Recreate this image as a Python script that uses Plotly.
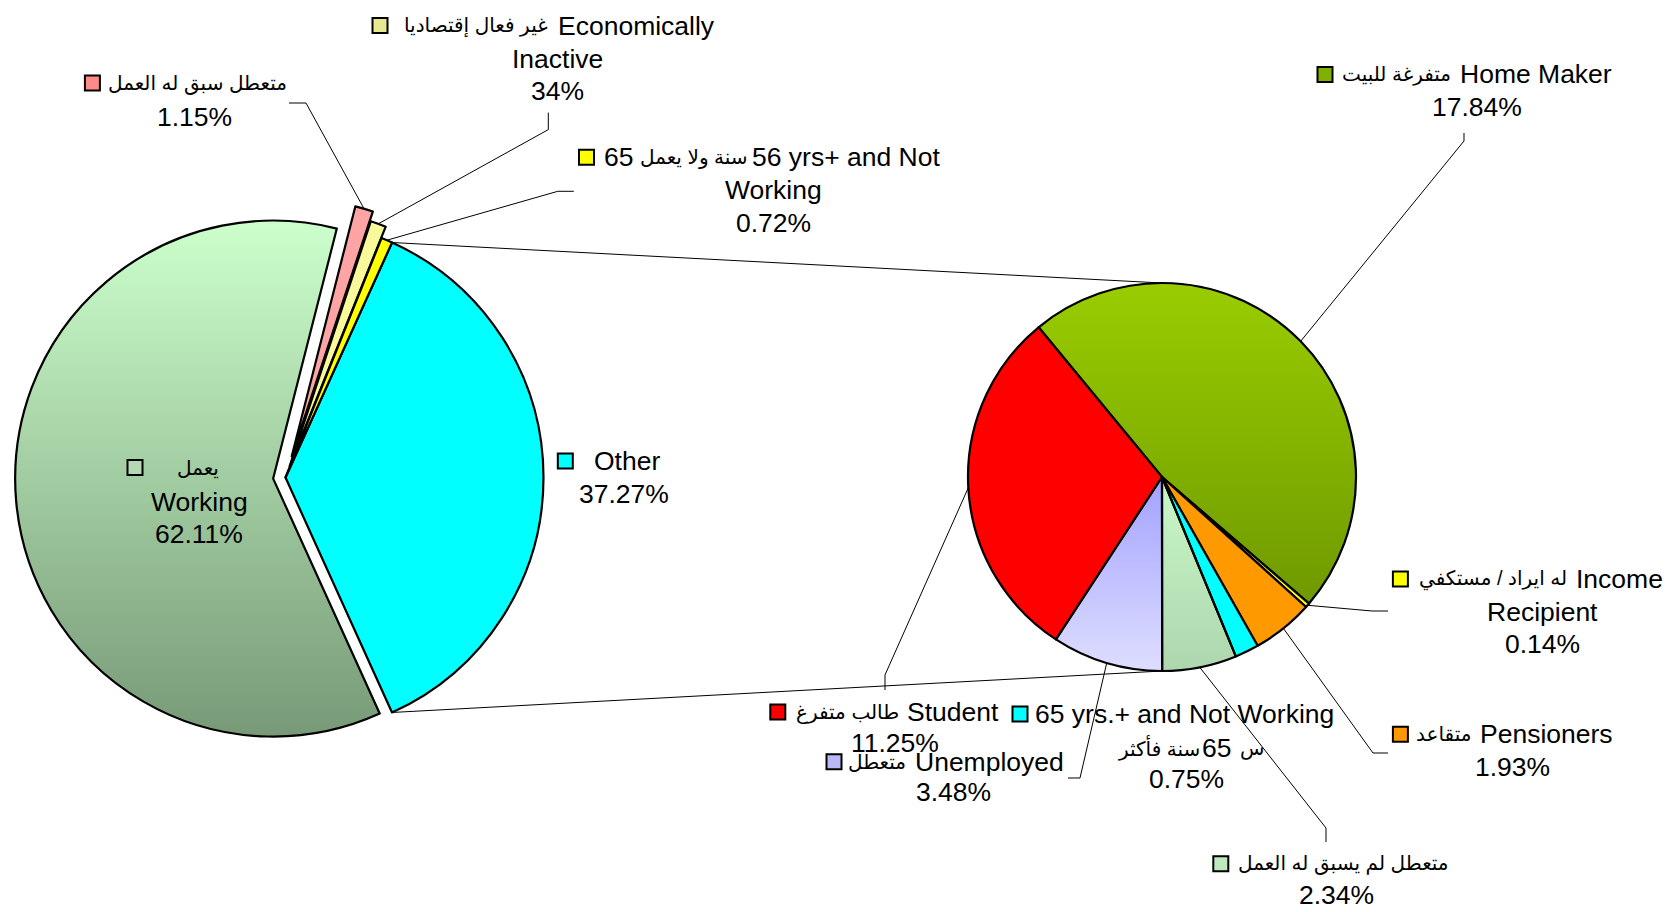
import math
import plotly.graph_objects as go

W, H = 1666, 912
FONT = "Liberation Sans, Arial, DejaVu Sans, sans-serif"
FS = 26.5
FS_AR = 20

# ---------------- data: primary pie ----------------
main_names_ar = ["", "يعمل", "متعطل سبق له العمل", "غير فعال إقتصاديا", "65 سنة ولا يعمل"]
main_names_en = ["Other", "Working", "", "Economically Inactive", "56 yrs+ and Not Working"]
main_values = [37.27, 62.11, 1.15, 1.0, 0.72]
main_pct_text = ["37.27%", "62.11%", "1.15%", "34%", "0.72%"]

# ---------------- data: secondary pie ----------------
sec_names_ar = ["متفرغة للبيت", "له ايراد / مستكفي", "متقاعد", "س 65سنة فأكثر",
                "متعطل لم يسبق له العمل", "متعطل", "طالب متفرغ"]
sec_names_en = ["Home Maker", "Income Recipient", "Pensioners", "65 yrs.+ and Not Working",
                "", "Unemployed", "Student"]
sec_values = [17.84, 0.14, 1.93, 0.75, 2.34, 3.48, 11.25]
sec_pct_text = ["17.84%", "0.14%", "1.93%", "0.75%", "2.34%", "3.48%", "11.25%"]

# ---------------- styling ----------------
TRANSP = "rgba(0,0,0,0)"
main_colors = ["#00ffff", TRANSP, "#ffa4a4", "#f9f99c", "#ffff00"]
main_grad = {1: ("#ccffcc", "#779977")}
main_key_colors = ["#00ffff", "#b4d8b4", "#ff8a8a", "#e8e890", "#ffff00"]
main_pull = [0, 0.048, 0.085, 0.047, 0]
sec_colors = [TRANSP, "#ffff00", "#ff9900", "#00ffff", TRANSP, TRANSP, "#ff0000"]
sec_grad = {0: ("#9acd00", "#6f9900"), 4: ("#c8f8c8", "#aed6ae"), 5: ("#a2a2ff", "#dedeff")}
sec_key_colors = ["#80b000", "#ffff00", "#ff9900", "#00ffff", "#bfe8bf", "#b8b8f8", "#ff0000"]

# geometry (pixels)
L_CX, L_CY, L_R = 285.5, 477.5, 258.0
R_CX, R_CY, R_R = 1162.0, 477.0, 194.0


def px(x):
    return x / W


def py(y):
    return 1 - y / H


def domain(cx, cy, r, maxpull):
    half = r * (1 + maxpull)
    return dict(x=[px(cx - half), px(cx + half)], y=[py(cy + half), py(cy - half)])


main_total = sum(main_values)
main_rot = 90 - main_values[0] / main_total * 180
sec_rot = -39.5


def slice_angles(values, rotation):
    tot = sum(values)
    out = []
    a = rotation
    for v in values:
        b = a + v / tot * 360
        out.append((a, b))
        a = b
    return out


def polar(cx, cy, rr, ang):
    t = math.radians(ang)
    return cx + rr * math.sin(t), cy - rr * math.cos(t)


main_ang = slice_angles(main_values, main_rot)
sec_ang = slice_angles(sec_values, sec_rot)

fig = go.Figure()


# gradient fills under the (transparent) pie slices, in a pixel-scaled cartesian frame
def gradient_fill(cx, cy, r, a0, a1, pull, c_top, c_bot):
    m = math.radians((a0 + a1) / 2)
    ccx = cx + pull * r * math.sin(m)
    ccy = cy - pull * r * math.cos(m)
    n = max(4, int(abs(a1 - a0) * 2))
    xs, ys = [ccx], [ccy]
    for k in range(n + 1):
        x, y = polar(ccx, ccy, r + 0.5, a0 + (a1 - a0) * k / n)
        xs.append(x)
        ys.append(y)
    xs.append(ccx)
    ys.append(ccy)
    fig.add_trace(go.Scatter(
        x=xs, y=ys, mode="lines", fill="toself", line=dict(width=0, color=c_top),
        fillgradient=dict(type="vertical", colorscale=[[0, c_top], [1, c_bot]],
                          start=min(ys), stop=max(ys)),
        hoverinfo="skip", showlegend=False))


for i, (ct, cb) in main_grad.items():
    gradient_fill(L_CX, L_CY, L_R, *main_ang[i], main_pull[i], ct, cb)
for i, (ct, cb) in sec_grad.items():
    gradient_fill(R_CX, R_CY, R_R, *sec_ang[i], 0, ct, cb)

fig.add_trace(go.Pie(
    values=main_values, labels=[e or a for e, a in zip(main_names_en, main_names_ar)],
    sort=False, direction="clockwise", rotation=main_rot,
    marker=dict(colors=main_colors, line=dict(color="black", width=2.2)),
    pull=main_pull, textinfo="none", hoverinfo="label+text", text=main_pct_text,
    domain=domain(L_CX, L_CY, L_R, max(main_pull)), showlegend=False,
))
fig.add_trace(go.Pie(
    values=sec_values, labels=[e or a for e, a in zip(sec_names_en, sec_names_ar)],
    sort=False, direction="clockwise", rotation=sec_rot,
    marker=dict(colors=sec_colors, line=dict(color="black", width=2.2)),
    textinfo="none", hoverinfo="label+text", text=sec_pct_text,
    domain=domain(R_CX, R_CY, R_R, 0), showlegend=False,
))

shapes = []
annotations = []


def line_path(points, width=1.0):
    d = "M " + " L ".join(f"{px(x):.5f},{py(y):.5f}" for x, y in points)
    shapes.append(dict(type="path", path=d, xref="paper", yref="paper",
                       line=dict(color="black", width=width)))


def key(x, y, color, s=15):
    shapes.append(dict(type="rect", xref="paper", yref="paper",
                       x0=px(x - s / 2), x1=px(x + s / 2), y0=py(y + s / 2), y1=py(y - s / 2),
                       fillcolor=color, line=dict(color="black", width=2)))


def text(x, y, t, anchor="center", size=FS):
    annotations.append(dict(x=px(x), y=py(y), xref="paper", yref="paper", text=t,
                            showarrow=False, xanchor=anchor, yanchor="middle",
                            font=dict(family=FONT, size=size, color="black")))


# ---- connector lines (pie of pie) ----
o0, o1 = main_ang[0]
line_path([polar(L_CX, L_CY, L_R, o0), (R_CX, R_CY - R_R)])
line_path([polar(L_CX, L_CY, L_R, o1), (R_CX, R_CY + R_R)])


def main_attach(i):
    a, b = main_ang[i]
    return polar(L_CX, L_CY, L_R * (1 + main_pull[i]), (a + b) / 2)


def sec_attach(i):
    a, b = sec_ang[i]
    return polar(R_CX, R_CY, R_R, (a + b) / 2)


# ---- primary labels ----
# Other
key(565.3, 461, main_key_colors[0])
text(592, 461, main_names_en[0], "left")
text(623.7, 494, main_pct_text[0])
# Working
key(135, 467.5, main_key_colors[1])
text(197.6, 467.5, main_names_ar[1], size=FS_AR)
text(199.8, 501.5, main_names_en[1])
text(198.7, 534.4, main_pct_text[1])
# previously worked, unemployed
key(92.4, 83, main_key_colors[2])
text(106, 83, main_names_ar[2], "left", size=FS_AR)
text(194.4, 117, main_pct_text[2])
line_path([(289, 103), (306, 103), main_attach(2)])
# economically inactive
key(380, 25.5, main_key_colors[3])
text(550, 25.5, main_names_ar[3], "right", size=FS_AR)
text(555.7, 25.5, main_names_en[3].split(" ")[0], "left")
text(557, 59.5, main_names_en[3].split(" ")[1])
text(557, 91.4, main_pct_text[3])
line_path([(548.3, 112.6), (548.3, 129.6), main_attach(3)])
# 65+ not working
ar4_num, ar4_words = main_names_ar[4].split(" ", 1)
key(586.5, 157.3, main_key_colors[4])
text(602, 157.3, ar4_num, "left")
text(750, 157.3, ar4_words, "right", size=FS_AR)
text(750, 157.3, " ".join(main_names_en[4].split(" ")[:4]), "left")
text(773.5, 190.2, main_names_en[4].split(" ")[4])
text(773.5, 223, main_pct_text[4])
line_path([(573.8, 191.3), (557.8, 191.3), main_attach(4)])

# ---- secondary labels ----
# Home maker
key(1325, 74.4, sec_key_colors[0])
text(1453, 74.4, sec_names_ar[0], "right", size=FS_AR)
text(1457.8, 74.4, sec_names_en[0], "left")
text(1477, 107.3, sec_pct_text[0])
line_path([(1464, 133), (1464, 141), sec_attach(0)])
# Income recipient
key(1400.4, 579, sec_key_colors[1])
text(1569, 579, sec_names_ar[1], "right", size=FS_AR)
text(1573.6, 579, sec_names_en[1].split(" ")[0], "left")
text(1542.8, 612, sec_names_en[1].split(" ")[1])
text(1542.8, 644, sec_pct_text[1])
line_path([(1388, 611), (1372, 611), sec_attach(1)])
# Pensioners
key(1400.4, 734.2, sec_key_colors[2])
text(1473, 734.2, sec_names_ar[2], "right", size=FS_AR)
text(1478, 734.2, sec_names_en[2], "left")
text(1512, 767, sec_pct_text[2])
line_path([(1388, 753), (1373, 753), sec_attach(2)])
# 65 yrs+ not working (second line shown as: Arabic words, number, stray letter)
s_letter, s_rest = sec_names_ar[3].split(" ", 1)
s_num, s_words = s_rest[:2], s_rest[2:]
key(1020, 714, sec_key_colors[3])
text(1032.8, 714, sec_names_en[3], "left")
text(1202, 748, s_words, "right", size=FS_AR)
text(1200, 748, s_num, "left")
text(1238, 748, s_letter, "left", size=FS_AR)
text(1186.8, 779, sec_pct_text[3])
# never worked
key(1220.8, 863.8, sec_key_colors[4])
text(1235.7, 863.8, sec_names_ar[4], "left", size=FS_AR)
text(1336.6, 895, sec_pct_text[4])
line_path([(1326, 842), (1326, 828), sec_attach(4)])
# Unemployed
key(834, 761.8, sec_key_colors[5])
text(908, 761.8, sec_names_ar[5], "right", size=FS_AR)
text(912.7, 761.8, sec_names_en[5], "left")
text(953, 791.6, sec_pct_text[5])
line_path([(1068, 778), (1080, 778), sec_attach(5)])
# Student
key(777.8, 712, sec_key_colors[6])
text(901, 712, sec_names_ar[6], "right", size=FS_AR)
text(905.3, 712, sec_names_en[6], "left")
text(894.6, 742.7, sec_pct_text[6])
line_path([(885, 690), (885, 675), sec_attach(6)])

fig.update_layout(
    width=W, height=H, autosize=False,
    margin=dict(l=0, r=0, t=0, b=0, pad=0),
    paper_bgcolor="white", plot_bgcolor="white",
    showlegend=False, shapes=shapes, annotations=annotations,
    font=dict(family=FONT, size=FS, color="black"),
    xaxis=dict(range=[0, W], visible=False, fixedrange=True, domain=[0, 1]),
    yaxis=dict(range=[H, 0], visible=False, fixedrange=True, domain=[0, 1]),
)

fig.write_html("out.html", config={"displayModeBar": False},
               post_script="document.body.style.margin='0px';")
